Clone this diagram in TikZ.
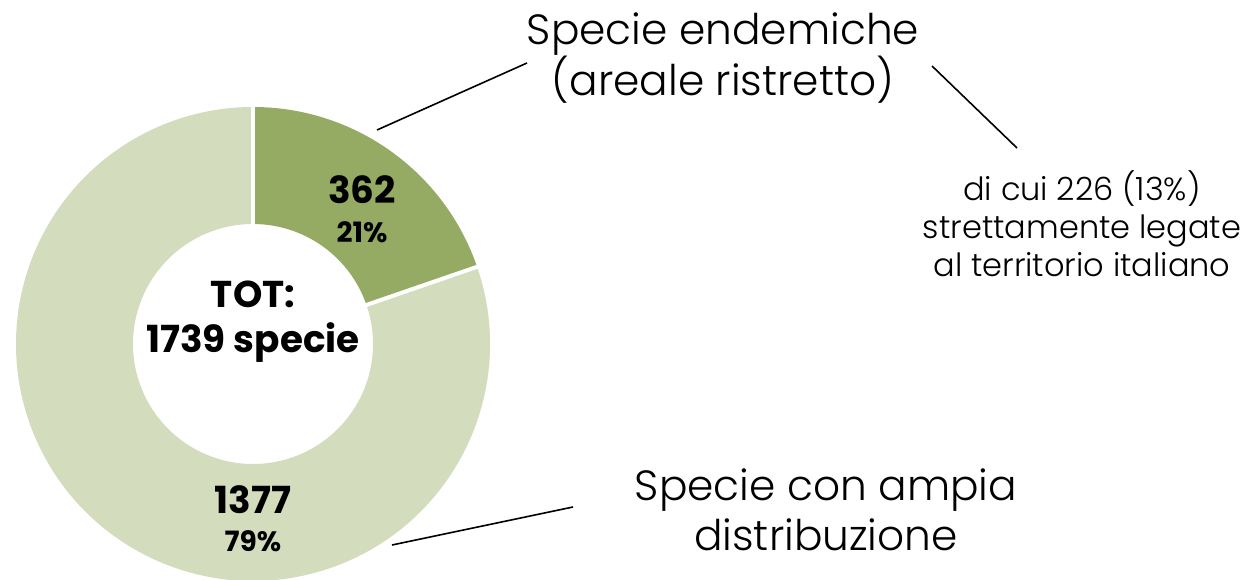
\documentclass[tikz,border=0pt]{standalone}
\usepackage{fontspec}
\setmainfont{Poppins}[UprightFont=* Light, BoldFont=* Bold]
\usetikzlibrary{calc}
\definecolor{endemicgreen}{HTML}{95AB63}
\definecolor{widegreen}{HTML}{D3DCBC}
\tikzset{
	bignum/.style={font=\fontsize{28}{28}\bfseries\selectfont},
	smallpct/.style={font=\fontsize{21}{21}\bfseries\selectfont},
	catlabel/.style={align=center, font=\fontsize{31.7}{37.5}\selectfont},
	notelabel/.style={align=center, font=\fontsize{24}{28.5}\selectfont},
	callout/.style={line width=1.2pt, color=black}
}

\begin{document}
\begin{tikzpicture}[x=0.75pt, y=0.75pt]
			%%%%% START %%%%%
			\useasboundingbox (0, 0) rectangle (1253, -580);
			
			\coordinate (c) at (253, -344);
			
			% ring
			\fill[widegreen] (c) ++(19:237) arc[start angle=19, end angle=-270, radius=237] -- ($(c)+(90:120)$) arc[start angle=90, end angle=379, radius=120] -- cycle;
			\fill[endemicgreen] (c) ++(90:237) arc[start angle=90, end angle=19, radius=237] -- ($(c)+(19:120)$) arc[start angle=19, end angle=90, radius=120] -- cycle;
			\draw[white, line width=3] ($(c)+(90:118)$) -- ($(c)+(90:240)$);
			\draw[white, line width=3] ($(c)+(19:118)$) -- ($(c)+(19:240)$);
			
			% numbers
			\node[bignum] (endnum) at (362, -190) {362};
			\node[smallpct] (endpct) at (362, -232) {21\%};
			\node[bignum] (widenum) at (253, -500) {1377};
			\node[smallpct] (widepct) at (253, -541) {79\%};
			\node[bignum, align=center, font=\fontsize{28}{33.75}\bfseries\selectfont] (total) at (253, -322) {TOT:\\1739 specie};
			
			% labels
			\node[catlabel] (endlabel) at (723, -58) {Specie endemiche\\(areale ristretto)};
			\node[notelabel] (sublabel) at (1082, -224) {di cui 226 (13\%)\\strettamente legate\\al territorio italiano};
			\node[catlabel] (widelabel) at (826, -510) {Specie con ampia\\distribuzione};
			
			% callouts
			\coordinate (endtip) at (377, -130);
			\coordinate (endfoot) at (527, -63);
			\coordinate (subtop) at (932, -66);
			\coordinate (subfoot) at (1017, -148);
			\coordinate (widetip) at (392, -545);
			\coordinate (widefoot) at (573, -507);
			\draw[callout] (endtip) -- (endfoot);
			\draw[callout] (subtop) -- (subfoot);
			\draw[callout] (widetip) -- (widefoot);
			
			%%%%% END %%%%%
\end{tikzpicture}
\end{document}
